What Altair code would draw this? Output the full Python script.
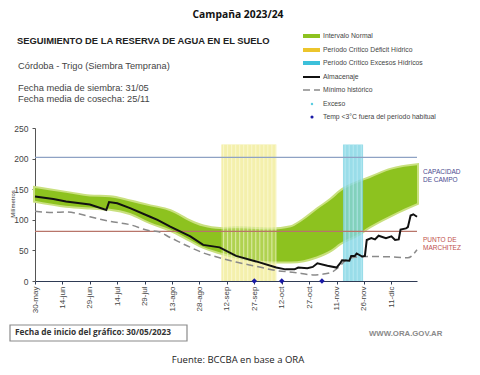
import altair as alt
import pandas as pd
import numpy as np

# ---------------- data ----------------
tick_days = [0, 15, 30, 45, 60, 75, 90, 105, 120, 135, 150, 165, 180, 195]
tick_labels = ["30-may", "14-jun", "29-jun", "14-jul", "29-jul", "13-ago", "28-ago",
               "12-sep", "27-sep", "12-oct", "27-oct", "11-nov", "26-nov", "11-dic"]

band_days = [0, 17, 30, 41, 52, 63, 74, 85, 92, 101, 110, 121, 129, 140, 147, 154, 162, 167, 176, 183, 195, 209]
band_high = [152, 144, 138, 137, 130, 122, 114, 97, 89, 85, 86, 85, 84, 88, 100, 116, 133, 146, 160, 168, 182, 189]
band_low = [131, 123, 120, 118, 111, 96, 84, 67, 56, 47, 40, 34, 32, 32, 34, 40, 51, 62, 75, 89, 108, 127]

alm_days = [0, 10, 17, 30, 39, 40.5, 45, 52, 63, 67, 74, 85, 92, 101, 110, 121, 132, 137, 142, 144,
            149, 152, 154.5, 160, 165, 167, 168, 172, 173, 175, 176, 179, 180.5, 181.5, 184, 186,
            188, 192, 195, 197, 199, 200, 203, 204, 205.5, 207, 209]
alm_vals = [138, 134, 130, 125, 116, 129, 127, 119, 105, 100, 89, 73, 59, 55, 41, 32, 22, 19, 19, 22,
            21, 23, 29, 25, 22, 29, 34, 33, 41, 41, 45, 40, 41, 67, 70, 68,
            74, 70, 73, 67, 68, 84, 86, 88, 107, 109, 105]

min_days = [0, 10, 17, 25, 30, 40, 52, 63, 67, 74, 85, 92, 101, 110, 121, 132, 142, 152, 157, 162,
            166, 170, 175, 183, 198, 204, 209]
min_vals = [114, 112, 113, 109, 105, 98, 92, 82, 81, 71, 55, 46, 38, 31, 24, 17, 14, 10, 11, 14,
            22, 34, 39, 40, 39, 38, 51]

crit_names = ["Período Crítico Déficit Hídrico", "Período Crítico Excesos Hídricos"]
crit_start = [102, 168.5]
crit_end = [132, 179.5]
crit_top = [223, 223]

capacidad_campo = 202
punto_marchitez = 81

temp_days = [120, 135, 157]

# ---------------- frames ----------------
green_df = pd.DataFrame({"day": band_days, "lo": band_low, "hi": band_high})
alm_df = pd.DataFrame({"day": alm_days, "val": alm_vals})
min_df = pd.DataFrame({"day": min_days, "val": min_vals})
crit_df = pd.DataFrame({"name": crit_names, "start": crit_start, "end": crit_end,
                        "bottom": [0, 0], "top": crit_top})
yel = crit_df.iloc[0]
cya = crit_df.iloc[1]
stripe_y = pd.DataFrame({"day": np.arange(yel.start + 1.2, yel.end, 2.2), "bottom": 0, "top": yel.top})
stripe_c = pd.DataFrame({"day": np.arange(cya.start + 1.2, cya.end, 2.2), "bottom": 0, "top": cya.top})
temp_df = pd.DataFrame({"day": temp_days, "val": [0] * len(temp_days)})
one = pd.DataFrame({"a": [0]})

W, H = 382, 153
FONT = "Liberation Sans"

xscale = alt.Scale(domain=[0, 209], nice=False, zero=False)
yscale = alt.Scale(domain=[0, 250], nice=False)
label_arr = "[" + ",".join("'%s'" % t for t in tick_labels) + "]"
xaxis = alt.Axis(values=tick_days, labelExpr=label_arr + "[round(datum.value/15)]",
                 labelAngle=270, title=None, grid=False, tickSize=3, labelPadding=2,
                 labelFontSize=8, labelColor="#444", domainColor="#2f3b55", tickColor="#2f3b55")
yaxis = alt.Axis(values=[0, 50, 100, 150, 200, 250], title=None, grid=False, tickSize=3,
                 labelPadding=4, labelFontSize=8.5, labelColor="#444",
                 domainColor="#555", tickColor="#555")


def X(f):
    return alt.X(f, type="quantitative", scale=xscale, axis=xaxis)


def Y(f):
    return alt.Y(f, type="quantitative", scale=yscale, axis=yaxis)


def txt(s, x, y, size=8, color="#333", align="left", weight="normal", font=FONT, angle=0):
    kw = dict(text=s, align=align, baseline="middle", fontSize=size, color=color,
              fontWeight=weight, font=font)
    if angle:
        kw["angle"] = angle
    return alt.Chart(one).mark_text(**kw).encode(x=alt.value(x), y=alt.value(y))


layers = []
# yellow band base (under green)
layers.append(alt.Chart(crit_df.iloc[[0]]).mark_rect(color="#f4f0ad").encode(
    x=X("start"), x2="end", y=Y("bottom"), y2="top"))
# green halo + band
layers.append(alt.Chart(green_df).mark_area(color="#c9e07f", stroke="#c9e07f", strokeWidth=4,
                                            interpolate="monotone").encode(
    x=X("day"), y=Y("lo"), y2="hi"))
layers.append(alt.Chart(green_df).mark_area(color="#8dc21f", interpolate="monotone").encode(
    x=X("day"), y=Y("lo"), y2="hi"))
# yellow overlay and stripes
layers.append(alt.Chart(crit_df.iloc[[0]]).mark_rect(color="#f4f0ad", opacity=0.35).encode(
    x=X("start"), x2="end", y=Y("bottom"), y2="top"))
layers.append(alt.Chart(stripe_y).mark_rule(color="#fdfbe6", opacity=0.6, strokeWidth=1).encode(
    x=X("day"), y=Y("bottom"), y2="top"))
# cyan band
layers.append(alt.Chart(crit_df.iloc[[1]]).mark_rect(color="#80d4e4", opacity=0.8).encode(
    x=X("start"), x2="end", y=Y("bottom"), y2="top"))
layers.append(alt.Chart(stripe_c).mark_rule(color="#c4eef5", opacity=0.7, strokeWidth=1).encode(
    x=X("day"), y=Y("bottom"), y2="top"))
# horizontal reference lines
layers.append(alt.Chart(one).mark_rule(color="#8ea2c4", strokeWidth=1.2).encode(
    y=alt.Y(datum=capacidad_campo, type="quantitative", scale=yscale, axis=yaxis)))
layers.append(alt.Chart(one).mark_rule(color="#b8756a", strokeWidth=1.2).encode(
    y=alt.Y(datum=punto_marchitez, type="quantitative", scale=yscale, axis=yaxis)))
# minimo historico
layers.append(alt.Chart(min_df).mark_line(color="#8a8a8a", strokeWidth=1.5, strokeDash=[7, 4],
                                          interpolate="monotone").encode(
    x=X("day"), y=Y("val")))
# almacenaje
layers.append(alt.Chart(alm_df).mark_line(color="#111", strokeWidth=2).encode(
    x=X("day"), y=Y("val")))
# temp points
layers.append(alt.Chart(temp_df).mark_point(shape="diamond", filled=True, size=30, opacity=1,
                                            color="#1a1aa6").encode(
    x=X("day"), y=Y("val")))

# right side labels
layers += [
    txt("CAPACIDAD", 388, 44, 6.5, "#4b4b8f"),
    txt("DE  CAMPO", 388, 52, 6.5, "#4b4b8f"),
    txt("PUNTO  DE", 388, 112, 6.5, "#c0504d"),
    txt("MARCHITEZ", 388, 120, 6.5, "#c0504d"),
    txt("Milímetros", -22, 76, 6, "#333", align="center", angle=270),
]

# headers
layers += [
    txt("Campaña 2023/24", 203, -113, 10.3, "#111", align="center", weight="bold", font="Open Sans"),
    txt("SEGUIMIENTO DE LA RESERVA DE AGUA EN EL SUELO", -18, -87, 9.4, "#222", weight="bold"),
    txt("Córdoba - Trigo (Siembra Temprana)", -17, -62, 9.3, "#444"),
    txt("Fecha media de siembra: 31/05", -17, -40, 9.3, "#444"),
    txt("Fecha media de cosecha: 25/11", -17, -29, 9.3, "#444"),
]

# manual legend
LX1, LX2, LT = 268, 285, 288
rows = [-92, -78, -65, -51, -38, -24, -11]
leg_bar = [("#8dc21f", 4, None), ("#ecc52c", 4, None), ("#3cc0da", 4, None), ("#111", 2, None),
           ("#8a8a8a", 1.3, [7, 4])]
leg_txt = ["Intervalo Normal", "Período Crítico Déficit Hídrico", "Período Crítico Excesos Hídricos",
           "Almacenaje", "Mínimo histórico", "Exceso", "Temp <3°C fuera del período habitual"]
for (c, w, d), yy in zip(leg_bar, rows[:5]):
    kw = dict(color=c, strokeWidth=w)
    if d:
        kw["strokeDash"] = d
    layers.append(alt.Chart(one).mark_rule(**kw).encode(
        x=alt.value(LX1), x2=alt.value(LX2), y=alt.value(yy)))
layers.append(alt.Chart(one).mark_point(filled=True, size=6, color="#5ccde0", opacity=1).encode(
    x=alt.value(277), y=alt.value(rows[5])))
layers.append(alt.Chart(one).mark_point(filled=True, size=10, color="#1a1aa6", opacity=1).encode(
    x=alt.value(277), y=alt.value(rows[6])))
for t, yy in zip(leg_txt, rows):
    layers.append(txt(t, LT, yy, 6.8, "#444"))

# footer
layers.append(alt.Chart(one).mark_rect(fill="white", stroke="#8a8a8a", strokeWidth=1.2).encode(
    x=alt.value(-25), x2=alt.value(152), y=alt.value(197), y2=alt.value(213)))
layers += [
    txt("Fecha de inicio del gráfico:   30/05/2023", -20, 205, 8.3, "#333", weight="bold", font="Open Sans"),
    txt("WWW.ORA.GOV.AR", 334, 206, 7.8, "#8a8a8a", weight="bold"),
    txt("Fuente: BCCBA en base a ORA", 203, 232, 9.5, "#222", align="center", font="Open Sans"),
]

chart = alt.layer(*layers).properties(
    width=W, height=H,
    padding={"left": 27, "top": 120, "right": 55, "bottom": 86},
    autosize=alt.AutoSizeParams(type="none"),
).configure_view(stroke=None).configure_axis(labelFont=FONT)

chart.save("out.html", embed_options={"renderer": "svg", "actions": False})
